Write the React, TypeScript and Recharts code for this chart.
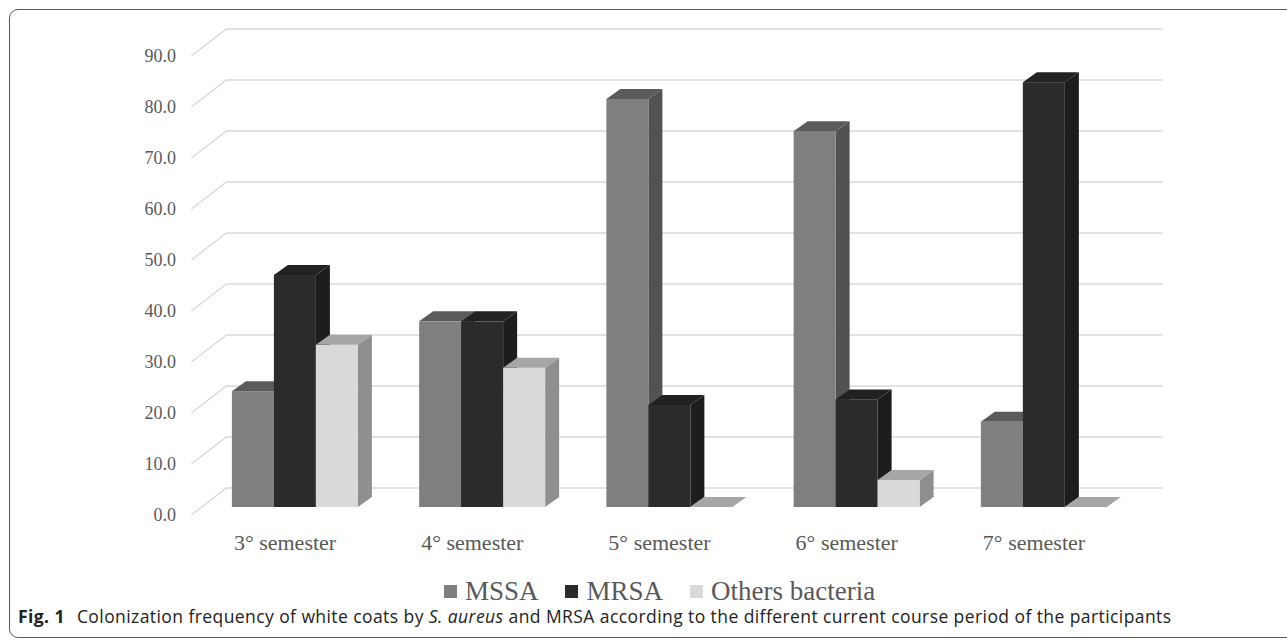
import React from 'react';
import { Bar, BarChart, CartesianGrid, Legend, XAxis, YAxis } from 'recharts';

const categories = ['3° semester', '4° semester', '5° semester', '6° semester', '7° semester'];
const mssa = [22.7, 36.4, 80.0, 73.7, 16.7];
const mrsa = [45.5, 36.4, 20.0, 21.1, 83.3];
const others = [31.8, 27.3, 0, 5.3, 0];
const yTicks = [0, 10, 20, 30, 40, 50, 60, 70, 80, 90];

const data = categories.map((name, i) => ({
  name,
  MSSA: mssa[i],
  MRSA: mrsa[i],
  Others: others[i],
}));

const serif = '"Liberation Serif", "DejaVu Serif", serif';
const textColor = '#595959';

// floor / wall perspective
const WALL_DX = 35;
const WALL_DY = 27;
// bars sit a bit behind the front plane
const BAR_DX = 9.5;
const BAR_DY = 8;
// bar depth
const DEPTH_X = 14;
const DEPTH_Y = 10;

const palette = {
  MSSA: { front: '#7f7f7f', top: '#5b5b5b', side: '#525252' },
  MRSA: { front: '#2b2b2b', top: '#222222', side: '#1d1d1d' },
  Others: { front: '#d9d9d9', top: '#a6a6a6', side: '#8f8f8f' },
};

const Box3D = (props: any) => {
  const { x, y, width, height, colors } = props;
  if (x == null || y == null) return null;
  const fx = x + BAR_DX;
  const fy = y - BAR_DY;
  const h = Math.max(height || 0, 0);
  const top = `${fx},${fy} ${fx + DEPTH_X},${fy - DEPTH_Y} ${fx + width + DEPTH_X},${fy - DEPTH_Y} ${fx + width},${fy}`;
  if (h < 0.5) {
    return (
      <g>
        <polygon points={top} fill={colors.top} />
      </g>
    );
  }
  const side = `${fx + width},${fy} ${fx + width + DEPTH_X},${fy - DEPTH_Y} ${fx + width + DEPTH_X},${fy + h - DEPTH_Y} ${fx + width},${fy + h}`;
  return (
    <g>
      <polygon points={side} fill={colors.side} />
      <rect x={fx} y={fy} width={width} height={h} fill={colors.front} />
      <polygon points={top} fill={colors.top} />
    </g>
  );
};

const GridLine = (props: any) => {
  const { x1, y1, x2 } = props;
  return (
    <path
      key={`g-${y1}`}
      d={`M${x1},${y1} L${x1 + WALL_DX},${y1 - WALL_DY} L${x2 + WALL_DX},${y1 - WALL_DY}`}
      stroke="#d9d9d9"
      strokeWidth={1.3}
      fill="none"
    />
  );
};

const YTick = (props: any) => {
  const { y, payload } = props;
  return (
    <text x={176} y={y} textAnchor="end" dominantBaseline="central" fontFamily={serif} fontSize={18} fill={textColor}>
      {Number(payload.value).toFixed(1)}
    </text>
  );
};

const XTick = (props: any) => {
  const { x, payload } = props;
  return (
    <text x={x} y={542} textAnchor="middle" dominantBaseline="central" fontFamily={serif} fontSize={22} fill={textColor}>
      {payload.value}
    </text>
  );
};

const legendItems = [
  { label: 'MSSA', color: palette.MSSA.front },
  { label: 'MRSA', color: palette.MRSA.front },
  { label: 'Others bacteria', color: palette.Others.front },
];

const LegendContent = () => (
  <div style={{ display: 'flex', justifyContent: 'center', alignItems: 'center', gap: 27, paddingLeft: 32 }}>
    {legendItems.map((it) => (
      <div key={it.label} style={{ display: 'flex', alignItems: 'center' }}>
        <span style={{ display: 'inline-block', width: 13, height: 13, background: it.color, marginRight: 8 }} />
        <span style={{ fontFamily: serif, fontSize: 27, color: textColor, lineHeight: '26px' }}>{it.label}</span>
      </div>
    ))}
  </div>
);

export default function App() {
  return (
    <div style={{ position: 'absolute', left: 0, top: 0, width: 1287, height: 640, background: '#fff', overflow: 'hidden' }}>
      <div
        style={{
          position: 'absolute',
          left: 9,
          top: 9,
          width: 1300,
          height: 629,
          border: '1.5px solid #5a5a5a',
          borderRadius: 9,
          boxSizing: 'border-box',
        }}
      />
      <div style={{ position: 'absolute', left: 0, top: 0 }}>
        <BarChart
          width={1287}
          height={640}
          data={data}
          margin={{ top: 56, left: 131.4, right: 159.4, bottom: 95 }}
          barCategoryGap={31}
          barGap={0}
        >
          <CartesianGrid vertical={false} horizontal={GridLine} />
          <XAxis dataKey="name" axisLine={false} tickLine={false} height={30} tick={XTick} interval={0} />
          <YAxis
            domain={[0, 90]}
            ticks={yTicks}
            axisLine={false}
            tickLine={false}
            width={60}
            tick={YTick}
            interval={0}
          />
          <Legend
            layout="horizontal"
            verticalAlign="middle"
            align="center"
            content={LegendContent}
            wrapperStyle={{ position: 'absolute', top: 578, left: 0, width: 1287 }}
          />
          <Bar dataKey="MSSA" name="MSSA" isAnimationActive={false} shape={(p: any) => <Box3D {...p} colors={palette.MSSA} />} />
          <Bar dataKey="MRSA" name="MRSA" isAnimationActive={false} shape={(p: any) => <Box3D {...p} colors={palette.MRSA} />} />
          <Bar dataKey="Others" name="Others bacteria" isAnimationActive={false} shape={(p: any) => <Box3D {...p} colors={palette.Others} />} />
        </BarChart>
      </div>
      <div
        style={{
          position: 'absolute',
          left: 18,
          top: 604,
          fontFamily: '"Open Sans", "Noto Sans", sans-serif',
          fontSize: 17.5,
          letterSpacing: 0.42,
          color: '#222',
          whiteSpace: 'nowrap',
        }}
      >
        <b>Fig. 1</b>
        <span style={{ marginLeft: 12 }}>
          Colonization frequency of white coats by <i>S. aureus</i> and MRSA according to the different current course
          period of the participants
        </span>
      </div>
    </div>
  );
}
